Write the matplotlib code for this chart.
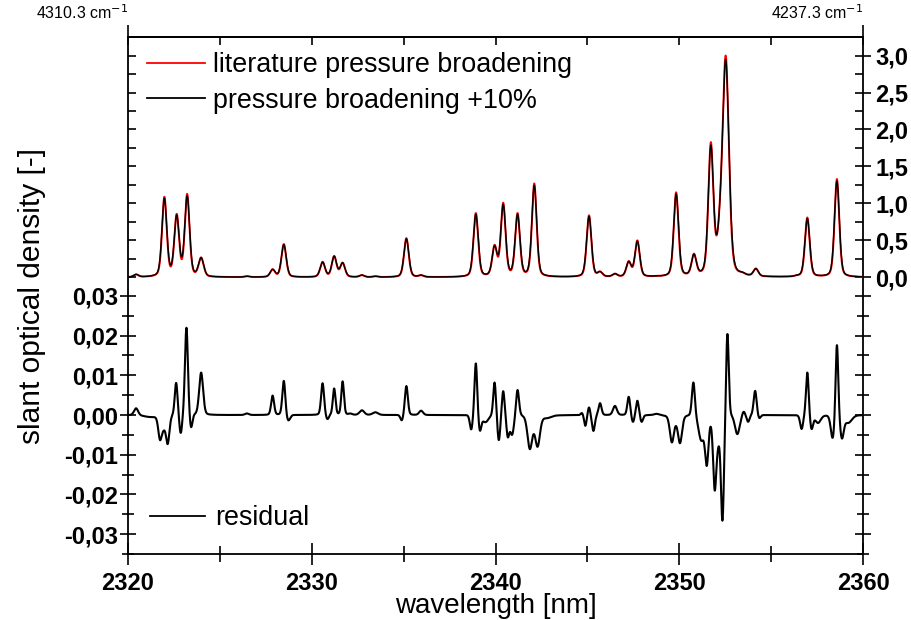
import numpy as np
import matplotlib
matplotlib.use("Agg")
import matplotlib.pyplot as plt
from matplotlib.ticker import FixedLocator, FuncFormatter, NullLocator
from matplotlib.lines import Line2D

# ---------------- data ----------------
# absorption line list of the modelled slant optical density spectrum
line_centers = [2320.44, 2321.98, 2322.65, 2323.22, 2323.98, 2326.47, 2327.87, 2328.48,
                2330.59, 2331.22, 2331.68, 2332.73, 2333.46, 2335.15, 2335.95, 2338.93,
                2339.95, 2340.42, 2341.20, 2342.11, 2345.09, 2345.69, 2346.50, 2347.25,
                2347.72, 2348.77, 2349.83, 2350.80, 2351.72, 2352.20, 2352.53, 2353.44,
                2354.17, 2356.40, 2356.97, 2358.58]
lit_heights = [0.04, 1.09, 0.86, 1.13, 0.27, 0.015, 0.11, 0.45,
               0.21, 0.29, 0.20, 0.03, 0.015, 0.53, 0.03, 0.87,
               0.44, 1.01, 0.87, 1.27, 0.84, 0.08, 0.05, 0.22,
               0.50, 0.02, 1.15, 0.32, 1.83, 1.00, 3.00, 0.07,
               0.12, 0.03, 0.81, 1.33]
broad_heights = [0.04, 1.07, 0.845, 1.105, 0.265, 0.015, 0.108, 0.442,
                 0.206, 0.285, 0.196, 0.03, 0.015, 0.52, 0.03, 0.855,
                 0.432, 0.99, 0.855, 1.245, 0.825, 0.079, 0.05, 0.216,
                 0.49, 0.02, 1.13, 0.314, 1.79, 0.99, 2.95, 0.07,
                 0.118, 0.03, 0.795, 1.305]
line_fwhm = [0.30, 0.30, 0.30, 0.30, 0.32, 0.30, 0.30, 0.30,
             0.30, 0.30, 0.30, 0.30, 0.30, 0.30, 0.30, 0.30,
             0.30, 0.30, 0.30, 0.30, 0.30, 0.30, 0.30, 0.30,
             0.30, 0.30, 0.30, 0.30, 0.32, 0.36, 0.40, 0.30,
             0.30, 0.30, 0.30, 0.30]

# residual: extrema (position, value, feature width)
res_centers = [2320.44, 2321.20, 2321.74, 2321.93, 2322.16, 2322.62, 2322.87, 2323.18,
               2323.43, 2323.98, 2326.47, 2327.87, 2328.48, 2328.72, 2330.59, 2330.85,
               2331.22, 2331.68, 2332.10, 2332.73, 2333.46, 2334.90, 2335.15, 2335.95,
               2338.68, 2338.93, 2339.15, 2339.45, 2339.95, 2340.18, 2340.42, 2340.67,
               2340.90, 2341.20, 2341.87, 2342.09, 2342.29, 2342.80, 2344.70, 2344.89,
               2345.09, 2345.33, 2345.69, 2346.50, 2347.25, 2347.48, 2347.72, 2347.95,
               2348.77, 2349.60, 2349.83, 2350.04, 2350.77, 2351.20, 2351.50, 2351.72,
               2351.93, 2352.11, 2352.35, 2352.62, 2353.16, 2353.50, 2353.75, 2354.13,
               2354.35, 2356.66, 2356.97, 2357.20, 2357.55, 2358.35, 2358.58, 2358.85,
               2359.20]
res_values = [0.0017, -0.0005, -0.0063, -0.0040, -0.0073, 0.0081, -0.0045, 0.0220,
              -0.0030, 0.0107, 0.0004, 0.0049, 0.0086, -0.0013, 0.0080, -0.0010,
              0.0067, 0.0085, 0.0004, 0.0012, 0.0007, -0.0013, 0.0073, 0.0011,
              -0.0036, 0.0130, -0.0039, -0.0018, 0.0082, -0.0063, 0.0060, -0.0056,
              -0.0050, 0.0063, -0.0086, -0.0048, -0.0080, -0.0008, 0.0005, -0.0027,
              0.0019, -0.0040, 0.0030, 0.0023, 0.0046, -0.0017, 0.0036, -0.0017,
              0.0003, -0.0069, -0.0028, -0.0071, 0.0082, -0.0065, -0.0128, -0.0030,
              -0.0190, -0.0086, -0.0266, 0.0204, -0.0048, 0.0008, -0.0017, 0.0061,
              -0.0007, -0.0035, 0.0107, -0.0035, -0.0020, -0.0057, 0.0176, -0.0059,
              -0.0020]
res_fwhm = [0.26, 0.80, 0.22, 0.24, 0.22, 0.18, 0.18, 0.19,
            0.18, 0.25, 0.25, 0.19, 0.19, 0.24, 0.19, 0.20,
            0.17, 0.17, 0.24, 0.30, 0.35, 0.18, 0.19, 0.25,
            0.18, 0.17, 0.18, 0.40, 0.17, 0.18, 0.17, 0.18,
            0.24, 0.19, 0.30, 0.24, 0.30, 0.55, 0.15, 0.15,
            0.15, 0.18, 0.19, 0.25, 0.18, 0.18, 0.18, 0.18,
            0.35, 0.26, 0.22, 0.26, 0.19, 0.35, 0.22, 0.20,
            0.21, 0.21, 0.20, 0.17, 0.30, 0.18, 0.18, 0.19,
            0.18, 0.19, 0.17, 0.19, 0.35, 0.24, 0.17, 0.24,
            0.45]

x_range = (2320, 2360)
x_major = [2320, 2330, 2340, 2350, 2360]
x_minor = [2325, 2335, 2345, 2355]
x_top = [2320, 2325, 2330, 2335, 2340, 2345, 2350, 2355, 2360]
wn_ticks = [2320, 2360]
wn_labels = ["4310.3 cm$^{-1}$", "4237.3 cm$^{-1}$"]
spec_major = [0.0, 0.5, 1.0, 1.5, 2.0, 2.5, 3.0]
spec_minor = [0.25, 0.75, 1.25, 1.75, 2.25, 2.75]
spec_left = [0.0, 0.25, 0.5, 0.75, 1.0, 1.25, 1.5, 1.75, 2.0, 2.25, 2.5, 2.75, 3.0]
res_major = [-0.03, -0.02, -0.01, 0.0, 0.01, 0.02, 0.03]
res_minor = [-0.035, -0.025, -0.015, -0.005, 0.005, 0.015, 0.025]
leg_top = ["literature pressure broadening", "pressure broadening +10%"]
leg_res = ["residual"]


# ---------------- line shape model ----------------
def pvoigt(d, fwhm, eta=0.3):
    sig = fwhm / 2.3548
    gam = fwhm / 2.0
    g = np.exp(-d ** 2 / (2 * sig ** 2))
    l = gam ** 2 / (gam ** 2 + d ** 2)
    return (1 - eta) * g + eta * l


def spectrum(x, centers, heights, widths, eta=0.3):
    c = np.asarray(centers)
    h = np.asarray(heights)
    w = np.asarray(widths)
    M = pvoigt(c[:, None] - c[None, :], w[None, :], eta)
    amps = np.linalg.solve(M, h)
    return (amps[None, :] * pvoigt(x[:, None] - c[None, :], w[None, :], eta)).sum(axis=1)


xg = np.linspace(x_range[0], x_range[1], 6001)
spec_lit = spectrum(xg, line_centers, lit_heights, line_fwhm)
spec_broad = spectrum(xg, line_centers, broad_heights, np.asarray(line_fwhm) * 1.05)
resid = spectrum(xg, res_centers, res_values, res_fwhm, eta=0.2)

# ---------------- figure ----------------
W, H = 912, 620
fig = plt.figure(figsize=(W / 100, H / 100), dpi=100)
L, R, T, B = 128, 863, 37.3, 554
rect = [L / W, 1 - B / H, (R - L) / W, (B - T) / H]

TFS = 17
LFS = 20


def style_ticklabels(labels):
    for lbl in labels:
        lbl.set_fontfamily("Liberation Sans")
        lbl.set_fontweight("bold")
        lbl.set_fontsize(TFS)


# residual axes (full box)
ax = fig.add_axes(rect)
ax.plot(xg, resid, color="black", lw=1.5)
ax.set_xlim(*x_range)
res_lo = -0.035
res_hi = res_lo + (B - T) / 3970.0
ax.set_ylim(res_lo, res_hi)
ax.yaxis.set_major_locator(FixedLocator(res_major))
ax.yaxis.set_minor_locator(FixedLocator(res_minor))
ax.yaxis.set_major_formatter(FuncFormatter(
    lambda v, p: ("0,00" if abs(v) < 1e-9 else f"{v:.2f}".replace(".", ","))))
ax.yaxis.set_ticks_position("both")
ax.tick_params(axis="y", which="major", direction="inout", length=12, width=1.2, pad=1)
ax.tick_params(axis="y", which="minor", direction="inout", length=9, width=1.2)
ax.xaxis.set_major_locator(FixedLocator(x_major))
ax.xaxis.set_minor_locator(FixedLocator(x_minor))
ax.tick_params(axis="x", which="major", direction="inout", length=16, width=1.2, pad=5)
ax.tick_params(axis="x", which="minor", direction="inout", length=12, width=1.2)
style_ticklabels(ax.get_xticklabels() + ax.get_yticklabels())
for s in ax.spines.values():
    s.set_linewidth(1.3)
ax.set_xlabel("wavelength [nm]", family="Liberation Sans", fontsize=LFS)
ax.xaxis.label.set_va("bottom")
ax.xaxis.set_label_coords(0.5, (B - 619) / (B - T))
ax.set_ylabel("slant optical density [-]", family="Liberation Sans", fontsize=21.5)
ax.yaxis.set_label_coords(-(L - 46) / (R - L), 0.5)

# spectrum axes (right scale)
ax2 = fig.add_axes(rect)
ax2.patch.set_visible(False)
for s in ax2.spines.values():
    s.set_visible(False)
ax2.plot(xg, spec_lit, color="#ff0000", lw=1.4, label=leg_top[0])
ax2.plot(xg, spec_broad, color="black", lw=1.0, label=leg_top[1])
ax2.set_xlim(*x_range)
spec_hi = (277.3 - T) / 73.9
spec_lo = -(B - 277.3) / 73.9
ax2.set_ylim(spec_lo, spec_hi)
ax2.yaxis.tick_right()
ax2.yaxis.set_major_locator(FixedLocator(spec_major))
ax2.yaxis.set_minor_locator(FixedLocator(spec_minor))
ax2.yaxis.set_major_formatter(FuncFormatter(lambda v, p: f"{v:.1f}".replace(".", ",")))
ax2.tick_params(axis="y", which="major", direction="inout", length=12, width=1.2, pad=3)
ax2.tick_params(axis="y", which="minor", direction="in", length=6, width=1.2)
ax2.xaxis.set_major_locator(NullLocator())
ax2.xaxis.set_minor_locator(NullLocator())
style_ticklabels(ax2.get_yticklabels())

# extra axes: inward left ticks of the spectrum scale and top ticks
ax3 = fig.add_axes(rect)
ax3.patch.set_visible(False)
for s in ax3.spines.values():
    s.set_visible(False)
ax3.set_xlim(*x_range)
ax3.set_ylim(spec_lo, spec_hi)
ax3.yaxis.set_major_locator(FixedLocator(spec_left))
ax3.yaxis.set_minor_locator(NullLocator())
ax3.tick_params(axis="y", which="major", left=True, right=False, labelleft=False,
                labelright=False, direction="in", length=6, width=1.2)
ax3.xaxis.set_major_locator(FixedLocator(x_top))
ax3.xaxis.set_minor_locator(NullLocator())
ax3.tick_params(axis="x", which="major", bottom=False, labelbottom=False,
                top=True, labeltop=False, direction="in", length=6, width=1.2)

# wavenumber end ticks on top
sec = ax.secondary_xaxis("top")
sec.set_xticks(wn_ticks)
sec.set_xticklabels(wn_labels)
sec.xaxis.set_minor_locator(NullLocator())
sec.tick_params(axis="x", direction="out", length=9, width=1.2, pad=2)
sec.spines["top"].set_linewidth(1.3)
for lbl in sec.get_xticklabels():
    lbl.set_ha("right")
    lbl.set_fontfamily(["Liberation Sans Narrow", "Liberation Sans"])
    lbl.set_fontsize(11.5)

# legends
leg1 = ax2.legend(loc="upper left", bbox_to_anchor=(147 / W, 1 - 52 / H),
                  bbox_transform=fig.transFigure, frameon=False,
                  prop={"family": "Liberation Sans", "size": 19.4},
                  handlelength=2.15, handletextpad=0.3, borderpad=0,
                  borderaxespad=0, labelspacing=0.36)
for lh in leg1.get_lines():
    lh.set_linewidth(1.3)
leg2 = ax.legend([Line2D([], [], color="black", lw=1.3)], leg_res,
                 loc="upper left", bbox_to_anchor=(150 / W, 1 - 505 / H),
                 bbox_transform=fig.transFigure, frameon=False,
                 prop={"family": "Liberation Sans", "size": 19.4},
                 handlelength=2.05, handletextpad=0.35, borderpad=0, borderaxespad=0)

fig.savefig("out.png", dpi=100)
